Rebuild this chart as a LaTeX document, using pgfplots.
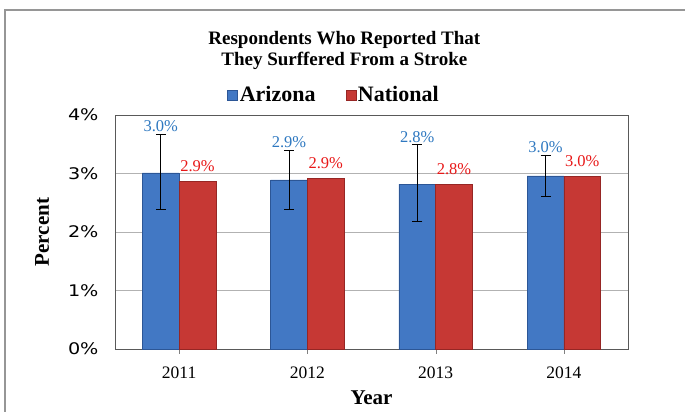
\documentclass[border=0pt]{standalone}
\usepackage{fontspec}
\setmainfont{Liberation Serif}
\newfontfamily\ticksans{DejaVu Sans}[FakeStretch=1.2]
\usepackage{pgfplots}
\usepackage{pgfplotstable}
\pgfplotsset{compat=1.18}

\definecolor{azfill}{RGB}{66,120,196}
\definecolor{azedge}{RGB}{44,86,150}
\definecolor{natfill}{RGB}{198,56,52}
\definecolor{natedge}{RGB}{150,38,36}
\definecolor{azlabel}{RGB}{46,120,192}
\definecolor{natlabel}{RGB}{232,24,24}
\definecolor{framegray}{RGB}{150,150,150}

% x: year index, az/nat: percent, azp/azm: error bar above/below
\pgfplotstableread{
x az   azp  azm  nat  aztop azl nattxt
0 3.01 0.66 0.63 2.86 3.67  3.0 2.9
1 2.89 0.50 0.51 2.92 3.39  2.9 2.9
2 2.82 0.67 0.64 2.81 3.49  2.8 2.8
3 2.96 0.35 0.36 2.95 3.31  3.0 3.0
}\strokedata

\begin{document}
\begin{tikzpicture}
\useasboundingbox (-115pt,-63pt) rectangle (570pt,349pt);
\draw[framegray, line width=1.2pt] (-110pt,-80pt) rectangle (590pt,339pt);

\begin{axis}[
  scale only axis,
  width=513pt, height=234pt,
  xmin=-0.5, xmax=3.5,
  ymin=0, ymax=4,
  xtick={0,1,2,3},
  xticklabels={2011,2012,2013,2014},
  ytick={0,1,2,3,4},
  yticklabels={0\%,1\%,2\%,3\%,4\%},
  xtick pos=lower, ytick pos=left,
  tick align=outside,
  major tick length=5pt,
  xtick style={draw=gray},
  ytick style={draw=none},
  ymajorgrids,
  grid style={draw=gray!60, line width=0.8pt},
  axis line style={draw=gray!70!black, line width=0.8pt},
  xticklabel style={font=\fontsize{17.5}{20}\selectfont, yshift=-9pt},
  yticklabel style={font=\ticksans\fontsize{16}{18}\selectfont, xshift=-8pt},
  xlabel={\textbf{Year}},
  xlabel style={font=\fontsize{21}{24}\selectfont, at={(axis description cs:0.5,-0.209)}, anchor=center},
  ylabel={\textbf{Percent}},
  ylabel style={font=\fontsize{21}{24}\selectfont, at={(axis description cs:-0.142,0.5)}, anchor=center},
  ybar,
  bar width=36.7pt,
  legend style={at={(axis description cs:0.427,1.085)}, anchor=center, draw=none, fill=none,
    legend columns=2, font=\bfseries\fontsize{22}{25}\selectfont,
    /tikz/every even column/.append style={column sep=28pt}},
  legend image code/.code={\fill[#1] (0pt,-5pt) rectangle (10pt,5pt);},
  clip=false,
]

\addplot[bar shift=-18.35pt, fill=azfill, draw=azedge, line width=0.4pt,
  error bars/.cd, y dir=both, y explicit,
  error bar style={black, line width=0.9pt},
  error mark options={black, line width=0.9pt, mark size=5pt, rotate=90}]
  table[x=x, y=az, y error plus=azp, y error minus=azm] {\strokedata};
\addlegendentry{Arizona}

\addplot[bar shift=18.35pt, fill=natfill, draw=natedge, line width=0.4pt,
  nodes near coords={\pgfplotspointmeta\%},
  point meta=explicit symbolic,
  nodes near coords style={text=natlabel, font=\fontsize{16.5}{19}\selectfont, anchor=south, yshift=6pt}]
  table[x=x, y=nat, meta=nattxt] {\strokedata};
\addlegendentry{National}

% Arizona value labels sit above the error bars
\addplot[forget plot, bar shift=-18.35pt, draw=none, fill=none,
  nodes near coords={\pgfplotspointmeta\%},
  point meta=explicit symbolic,
  nodes near coords style={text=azlabel, font=\fontsize{16.5}{19}\selectfont, anchor=south, yshift=-1pt}]
  table[x=x, y=aztop, meta=azl] {\strokedata};

\node[align=center, font=\bfseries\fontsize{19}{21}\selectfont]
  at (axis description cs:0.447,1.275) {Respondents Who Reported That\\They Surffered From a Stroke};
\end{axis}
\end{tikzpicture}
\end{document}
